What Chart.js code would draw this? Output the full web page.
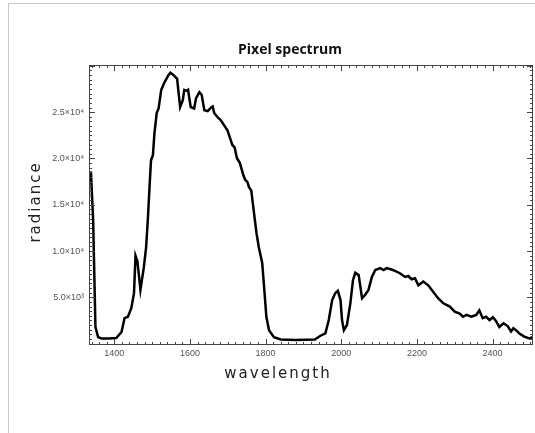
<!DOCTYPE html>
<html>
<head>
<meta charset="utf-8">
<script src="https://cdn.jsdelivr.net/npm/chart.js@4.4.1/dist/chart.umd.min.js"></script>
<style>
    html, body { margin: 0; padding: 0; background: #fff; }
    #frame { position: absolute; left: 8px; top: 3px; width: 600px; height: 500px; border-left: 1px solid #c8c8c8; border-top: 1px solid #c8c8c8; }
    #wrap { position: absolute; left: 0; top: 0; width: 535px; height: 433px; }
</style>
</head>
<body>
<div id="frame"></div>
<div id="wrap"><canvas id="chart" width="535" height="433"></canvas></div>
<script>
// spectrum
const wavelength = [
    1338, 1344, 1347, 1350, 1357, 1366, 1385, 1405, 1419, 1427, 1436, 1445, 1452, 1456, 1461, 1469,
    1478, 1484, 1489, 1493, 1497, 1502, 1506, 1512, 1517, 1524, 1533, 1543, 1548, 1557, 1566, 1570,
    1574, 1581, 1585, 1592, 1595, 1599, 1602, 1611, 1616, 1625, 1631, 1638, 1647, 1656, 1660, 1664,
    1673, 1682, 1690, 1699, 1706, 1712, 1718, 1724, 1732, 1741, 1746, 1752, 1756, 1762, 1769, 1776,
    1782, 1791, 1796, 1802, 1809, 1822, 1840, 1880, 1930, 1945, 1958, 1967, 1976, 1984, 1991, 1998,
    2002, 2007, 2015, 2024, 2031, 2037, 2046, 2055, 2063, 2072, 2081, 2090, 2103, 2112, 2120, 2133,
    2142, 2155, 2169, 2177, 2186, 2195, 2204, 2217, 2230, 2243, 2256, 2270, 2287, 2300, 2313, 2322,
    2331, 2344, 2357, 2365, 2374, 2383, 2392, 2401, 2409, 2418, 2429, 2440, 2449, 2455, 2462, 2471,
    2484, 2497, 2505
];
const radiance = [
    18600, 13300, 7600, 1800, 700, 550, 550, 600, 1250, 2750, 2900, 3850, 5450, 9500, 8900, 5800,
    8250, 10400, 13700, 16900, 19800, 20350, 22700, 24900, 25400, 27400, 28250, 29000, 29250, 29000, 28600, 27050,
    25550, 26300, 27400, 27300, 27400, 26300, 25550, 25400, 26500, 27150, 26850, 25200, 25100, 25500, 25600, 24900,
    24450, 24100, 23600, 23050, 22200, 21450, 21200, 20050, 19500, 18200, 17700, 17450, 16900, 16550, 14200, 11900,
    10400, 8700, 6100, 2900, 1450, 700, 450, 400, 450, 850, 1100, 2550, 4700, 5450, 5700, 4700,
    2550, 1450, 2000, 4350, 6850, 7650, 7400, 4900, 5250, 5800, 7200, 7950, 8150, 7950, 8150, 8000,
    7850, 7600, 7200, 7300, 6950, 7050, 6300, 6700, 6300, 5600, 4900, 4350, 4000, 3450, 3250, 2900,
    3100, 2900, 3100, 3600, 2750, 2900, 2550, 2850, 2450, 1800, 2200, 1900, 1300, 1650, 1450, 1100,
    750, 550, 700
];

const xTicks = [1400, 1600, 1800, 2000, 2200, 2400];
const yTicks = [5000, 10000, 15000, 20000, 25000];
const yTickLabels = ["5.0×10³", "1.0×10⁴", "1.5×10⁴", "2.0×10⁴", "2.5×10⁴"];

const chartTitle = "Pixel spectrum";
const xTitle = "wavelength";
const yTitle = "radiance";

// IDL style box with inward major/minor ticks, plus titles
const boxTicks = {
    id: "boxTicks",
    afterDraw(chart) {
        const { ctx, chartArea: a, scales: { x, y } } = chart;
        ctx.save();
        ctx.strokeStyle = "#444";
        ctx.lineWidth = 1;
        ctx.strokeRect(a.left + 0.5, a.top + 0.5, a.right - a.left - 1, a.bottom - a.top - 1);

        ctx.beginPath();
        for (let v = Math.ceil(x.min / 20) * 20; v <= x.max; v += 20) {
            const px = Math.round(x.getPixelForValue(v)) + 0.5;
            const len = v % 200 === 0 ? 6 : 3;
            ctx.moveTo(px, a.bottom); ctx.lineTo(px, a.bottom - len);
            ctx.moveTo(px, a.top); ctx.lineTo(px, a.top + len);
        }
        for (let v = 500; v <= y.max; v += 500) {
            const py = Math.round(y.getPixelForValue(v)) + 0.5;
            const len = v % 5000 === 0 ? 6 : 3;
            ctx.moveTo(a.left, py); ctx.lineTo(a.left + len, py);
            ctx.moveTo(a.right, py); ctx.lineTo(a.right - len, py);
        }
        ctx.stroke();

        ctx.fillStyle = "#111";
        ctx.textAlign = "center";
        ctx.textBaseline = "middle";
        ctx.font = "bold 14px 'Open Sans'";
        ctx.fillText(chartTitle, 290, 50);

        ctx.fillStyle = "#222";
        ctx.font = "15px 'DejaVu Sans'";
        ctx.letterSpacing = "2px";
        ctx.fillText(xTitle, 278, 374);

        ctx.translate(36, 202);
        ctx.rotate(-Math.PI / 2);
        ctx.fillText(yTitle, 0, 0);
        ctx.restore();
    }
};

new Chart(document.getElementById("chart"), {
    type: "line",
    data: {
        datasets: [{
            data: wavelength.map((w, i) => ({ x: w, y: radiance[i] })),
            borderColor: "#000",
            borderWidth: 2.5,
            pointRadius: 0,
            tension: 0
        }]
    },
    options: {
        responsive: false,
        animation: false,
        layout: { padding: { top: 65, right: 2, left: 0, bottom: 0 } },
        plugins: { legend: { display: false }, tooltip: { enabled: false }, title: { display: false } },
        scales: {
            x: {
                type: "linear",
                min: 1333,
                max: 2507,
                grid: { display: false, drawTicks: false },
                border: { display: false },
                afterBuildTicks: s => { s.ticks = xTicks.map(v => ({ value: v })); },
                afterFit: s => { s.height = 88; },
                ticks: {
                    color: "#555",
                    font: { family: "Liberation Sans", size: 9 },
                    padding: 3,
                    maxRotation: 0,
                    autoSkip: false,
                    callback: v => String(v)
                }
            },
            y: {
                min: -150,
                max: 30090,
                grid: { display: false, drawTicks: false },
                border: { display: false },
                afterBuildTicks: s => { s.ticks = yTicks.map(v => ({ value: v })); },
                afterFit: s => { s.width = 89; },
                ticks: {
                    color: "#555",
                    font: { family: "Liberation Sans", size: 9 },
                    padding: 5,
                    autoSkip: false,
                    callback: v => yTickLabels[yTicks.indexOf(v)]
                }
            }
        }
    },
    plugins: [boxTicks]
});
</script>
</body>
</html>
